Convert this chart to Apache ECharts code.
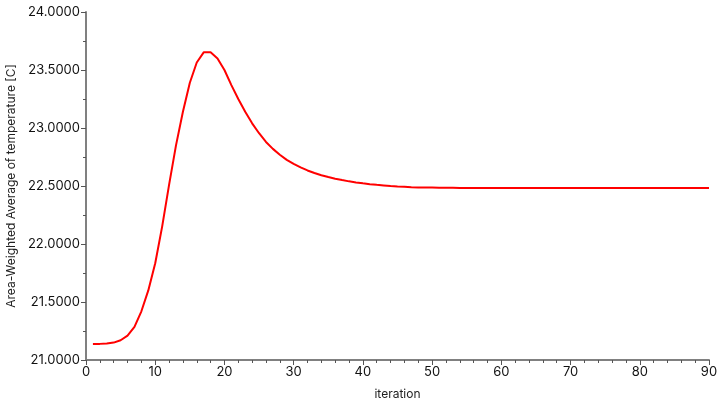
<!DOCTYPE html>
<html>
<head>
<meta charset="utf-8">
<script src="https://cdn.jsdelivr.net/npm/echarts@6/dist/echarts.min.js"></script>
<style>html,body{margin:0;padding:0;background:#fff}#c{width:727px;height:402px}</style>
</head>
<body>
<div id="c"></div>
<script>
const iterations = [];
for (let i = 1; i <= 90; i++) iterations.push(i);
const temperature = [
  21.138, 21.139, 21.142, 21.150, 21.170, 21.210, 21.285, 21.420, 21.600, 21.834,
  22.150, 22.510, 22.850, 23.140, 23.390, 23.565, 23.652, 23.652, 23.600, 23.500,
  23.370, 23.250, 23.140, 23.040, 22.955, 22.880, 22.820, 22.770, 22.725, 22.690,
  22.660, 22.634, 22.612, 22.593, 22.577, 22.563, 22.551, 22.540, 22.531, 22.523,
  22.516, 22.510, 22.505, 22.500, 22.496, 22.493, 22.490, 22.488, 22.487, 22.486,
  22.485, 22.484, 22.484, 22.483, 22.483, 22.483, 22.483, 22.483, 22.483, 22.483,
  22.483, 22.483, 22.483, 22.483, 22.483, 22.483, 22.483, 22.483, 22.483, 22.483,
  22.483, 22.483, 22.483, 22.483, 22.483, 22.483, 22.483, 22.483, 22.483, 22.483,
  22.483, 22.483, 22.483, 22.483, 22.483, 22.483, 22.483, 22.483, 22.483, 22.483
];
const xName = 'iteration';
const yName = 'Area-Weighted Average of temperature [C]';

const font = 'Inter';
const axisColor = '#808080';
const chart = echarts.init(document.getElementById('c'));
chart.setOption({
  animation: false,
  grid: { left: 86, right: 18, top: 12, bottom: 42, containLabel: false, outerBoundsMode: 'none' },
  xAxis: {
    type: 'value', min: 0, max: 90, interval: 10,
    name: xName, nameLocation: 'middle', nameGap: 28,
    nameTextStyle: { color: '#222', fontSize: 12, fontFamily: font },
    axisLine: { show: true, onZero: false, lineStyle: { color: axisColor, width: 2 } },
    axisTick: { show: true, length: 5, lineStyle: { color: '#555' } },
    minorTick: { show: true, splitNumber: 5, length: 3, lineStyle: { color: '#555' } },
    splitLine: { show: false },
    axisLabel: { color: '#111', fontSize: 13, fontFamily: font, margin: 6 }
  },
  yAxis: {
    type: 'value', min: 21, max: 24, interval: 0.5,
    name: yName, nameLocation: 'middle', nameGap: 60,
    nameTextStyle: { color: '#222', fontSize: 12, fontFamily: font },
    axisLine: { show: true, onZero: false, lineStyle: { color: axisColor, width: 2 } },
    axisTick: { show: true, length: 5, lineStyle: { color: '#555' } },
    minorTick: { show: true, splitNumber: 2, length: 3, lineStyle: { color: '#555' } },
    splitLine: { show: false },
    axisLabel: { color: '#111', fontSize: 13, fontFamily: font, margin: 6,
      formatter: v => v.toFixed(4) }
  },
  series: [{
    type: 'line',
    data: iterations.map((x, i) => [x, temperature[i]]),
    showSymbol: false,
    lineStyle: { color: '#ff0000', width: 2 },
    itemStyle: { color: '#ff0000' }
  }]
});
</script>
</body>
</html>
